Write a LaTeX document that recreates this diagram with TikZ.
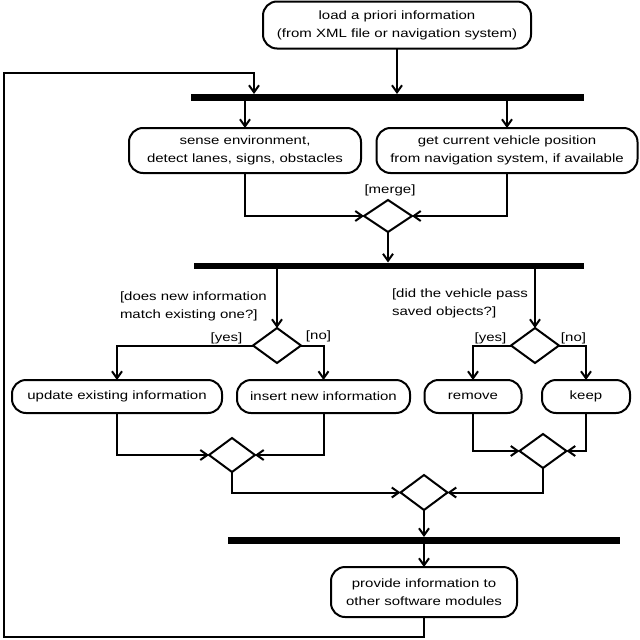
\documentclass[tikz,border=0pt]{standalone}
\usepackage{fontspec}
\setmainfont[FakeStretch=1.25]{Liberation Sans}
\usetikzlibrary{shapes.geometric,arrows.meta}
\begin{document}
\begin{tikzpicture}[x=1pt,y=-1pt,
  font=\fontsize{12}{18}\selectfont,
  every node/.style={inner sep=0pt, outer sep=0pt},
  act/.style={draw, line width=2pt, rounded corners=14pt, align=center},
  bar/.style={fill=black, draw=none, rectangle},
  dec/.style={draw, diamond, line width=2pt},
  conn/.style={line width=2pt},
  arr/.style={conn, -{Straight Barb[length=7pt,width=10pt,line width=2pt]}},
  lbl/.style={align=left}
]
\useasboundingbox (0,0) rectangle (640,640);
\fill[white] (0,0) rectangle (640,640);

\node[act, minimum width=268pt, minimum height=47pt] (top) at (397,25)
  {load a priori information\\(from XML file or navigation system)};
\node[bar, minimum width=393pt, minimum height=7pt] (bar1) at (387.5,97.5) {};
\node[act, minimum width=232pt, minimum height=45pt] (sense) at (245,150.5)
  {sense environment,\\detect lanes, signs, obstacles};
\node[act, minimum width=261pt, minimum height=45pt] (get) at (507,150.5)
  {get current vehicle position\\from navigation system, if available};
\node[dec, minimum width=48pt, minimum height=32pt] (m1) at (388,216) {};
\node (mlbl) at (390,190) {[merge]};
\node[bar, minimum width=390pt, minimum height=6pt] (bar2) at (389,265.5) {};

\node[dec, minimum width=48pt, minimum height=35pt] (d1) at (277,345.5) {};
\node[dec, minimum width=48pt, minimum height=35pt] (d2) at (535,345.5) {};
\node[lbl, anchor=west] (q1) at (120,306.5) {[does new information\\match existing one?]};
\node[lbl, anchor=west] (q2) at (392,303.5) {[did the vehicle pass\\saved objects?]};
\node (y1) at (226.5,338) {[yes]};
\node (n1) at (318.5,336) {[no]};
\node (y2) at (490.5,338) {[yes]};
\node (n2) at (573.5,338) {[no]};

\node[act, minimum width=210pt, minimum height=33pt] (upd) at (117,396.5) {update existing information};
\node[act, minimum width=173pt, minimum height=33pt] (ins) at (323.5,396.5) {insert new information};
\node[act, minimum width=97pt, minimum height=33pt] (rem) at (473,396.5) {remove};
\node[act, minimum width=88pt, minimum height=33pt] (keep) at (586,396.5) {keep};

\node[dec, minimum width=46pt, minimum height=34pt] (mA) at (232,455) {};
\node[dec, minimum width=47pt, minimum height=34pt] (mB) at (543,451) {};
\node[dec, minimum width=47pt, minimum height=35pt] (mC) at (424,492.5) {};
\node[bar, minimum width=392pt, minimum height=7pt] (bar3) at (424,540.5) {};
\node[act, minimum width=186pt, minimum height=50pt] (prov) at (424,592)
  {provide information to\\other software modules};

\coordinate (c1) at (424,637);
\coordinate (c2) at (4,637);
\coordinate (c3) at (4,73);
\coordinate (c4) at (254,73);

\draw[arr] (top.south) -- (top.south |- bar1.north);
\draw[arr] (sense.north |- bar1.south) -- (sense.north);
\draw[arr] (get.north |- bar1.south) -- (get.north);
\draw[arr] (sense.south) |- (m1.west);
\draw[arr] (get.south) |- (m1.east);
\draw[arr] (m1.south) -- (m1.south |- bar2.north);
\draw[arr] (d1.north |- bar2.south) -- (d1.north);
\draw[arr] (d2.north |- bar2.south) -- (d2.north);
\draw[arr] (d1.west) -| (upd.north);
\draw[arr] (d1.east) -| (ins.north);
\draw[arr] (d2.west) -| (rem.north);
\draw[arr] (d2.east) -| (keep.north);
\draw[arr] (upd.south) |- (mA.west);
\draw[arr] (ins.south) |- (mA.east);
\draw[arr] (rem.south) |- (mB.west);
\draw[arr] (keep.south) |- (mB.east);
\draw[arr] (mA.south) |- (mC.west);
\draw[arr] (mB.south) |- (mC.east);
\draw[arr] (mC.south) -- (mC.south |- bar3.north);
\draw[arr] (prov.north |- bar3.south) -- (prov.north);
\draw[arr] (prov.south) -- (c1) -- (c2) -- (c3) -- (c4) -- (c4 |- bar1.north);
\end{tikzpicture}
\end{document}
